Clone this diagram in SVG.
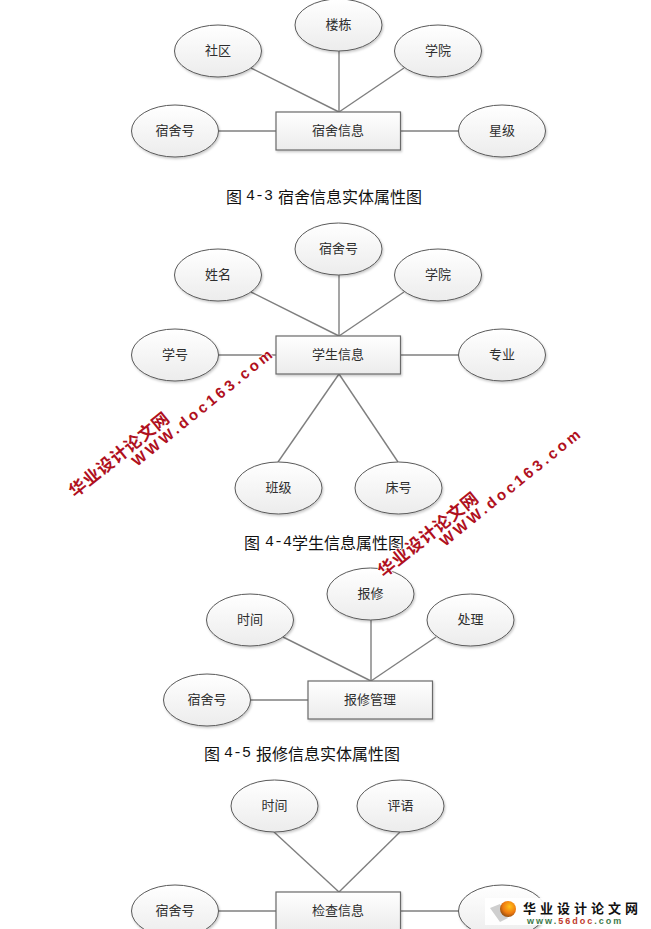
<svg xmlns="http://www.w3.org/2000/svg" width="651" height="929" viewBox="0 0 651 929">
<style>
.e{fill:url(#g);stroke:#5a5a5a;stroke-width:1;filter:url(#s)}
.r{fill:url(#g);stroke:#6a6a6a;stroke-width:1.2;filter:url(#s)}
.t{font:13px "Noto Sans CJK SC","Liberation Sans",sans-serif;fill:#2e2e2e;text-anchor:middle;dominant-baseline:central;transform:translateY(-1.5px)}
.c{font:16px "Noto Sans CJK SC",sans-serif;fill:#111;dominant-baseline:central;transform:translateY(-1px)}
.m{font-family:"Liberation Mono",monospace;font-size:15px}
#conn line{stroke:#7f7f7f;stroke-width:1.4}
.w1{font:bold 17px "Noto Sans CJK SC",sans-serif;fill:#b01020;stroke:#fff;stroke-width:1.5;paint-order:stroke;letter-spacing:.7px}
.w2{font:bold 15px "Liberation Sans",sans-serif;fill:#b01020;stroke:#fff;stroke-width:1.5;paint-order:stroke;letter-spacing:3.3px}
</style>
<defs>
<linearGradient id="g" x1="0" y1="0" x2="0" y2="1"><stop offset="0" stop-color="#fff"/><stop offset="1" stop-color="#ececec"/></linearGradient>
<filter id="s" x="-10%" y="-10%" width="125%" height="130%"><feDropShadow dx="1" dy="1.5" stdDeviation="1" flood-color="#000" flood-opacity=".22"/></filter>
<radialGradient id="o" cx=".6" cy=".35" r=".7"><stop offset="0" stop-color="#ffc21a"/><stop offset=".6" stop-color="#ef7a10"/><stop offset="1" stop-color="#8a4a10"/></radialGradient>
</defs>
<rect width="651" height="929" fill="#fff"/>
<g id="conn">
<line x1="251" y1="68" x2="339" y2="112"/><line x1="339" y1="51" x2="339" y2="112"/><line x1="404" y1="68" x2="339" y2="112"/><line x1="218" y1="131" x2="276" y2="131"/><line x1="400" y1="131" x2="459" y2="131"/>
<line x1="251" y1="292" x2="339" y2="336"/><line x1="339" y1="275" x2="339" y2="336"/><line x1="404" y1="292" x2="339" y2="336"/><line x1="218" y1="355" x2="276" y2="355"/><line x1="400" y1="355" x2="459" y2="355"/><line x1="339" y1="374" x2="278" y2="462"/><line x1="339" y1="374" x2="398" y2="462"/>
<line x1="283" y1="637" x2="371" y2="681"/><line x1="371" y1="620" x2="371" y2="681"/><line x1="436" y1="637" x2="371" y2="681"/><line x1="250" y1="700" x2="308" y2="700"/>
<line x1="274" y1="832" x2="339" y2="892"/><line x1="400" y1="832" x2="339" y2="892"/><line x1="218" y1="911" x2="276" y2="911"/><line x1="400" y1="911" x2="459" y2="911"/>
</g>
<g id="n1"><ellipse class="e" cx="218" cy="51" rx="43.5" ry="26"/><text class="t" x="218" y="51">社区</text></g>
<g id="n2"><ellipse class="e" cx="338.5" cy="25" rx="43.5" ry="26"/><text class="t" x="338.5" y="25">楼栋</text></g>
<g id="n3"><ellipse class="e" cx="438" cy="51" rx="43.5" ry="26"/><text class="t" x="438" y="51">学院</text></g>
<g id="n4"><ellipse class="e" cx="175" cy="131" rx="43.5" ry="26"/><text class="t" x="175" y="131">宿舍号</text></g>
<g id="n5"><ellipse class="e" cx="502" cy="131" rx="43.5" ry="26"/><text class="t" x="502" y="131">星级</text></g>
<g id="n6"><rect class="r" x="276" y="112" width="124.500" height="38"/><text class="t" x="338" y="131">宿舍信息</text></g>
<text class="c" y="197"><tspan x="226">图</tspan><tspan class="m" x="246">4-3</tspan><tspan x="278">宿舍信息实体属性图</tspan></text>
<g id="n7"><ellipse class="e" cx="218" cy="275" rx="43.5" ry="26"/><text class="t" x="218" y="275">姓名</text></g>
<g id="n8"><ellipse class="e" cx="338.5" cy="249" rx="43.5" ry="26"/><text class="t" x="338.5" y="249">宿舍号</text></g>
<g id="n9"><ellipse class="e" cx="438" cy="275" rx="43.5" ry="26"/><text class="t" x="438" y="275">学院</text></g>
<g id="n10"><ellipse class="e" cx="175" cy="355" rx="43.5" ry="26"/><text class="t" x="175" y="355">学号</text></g>
<g id="n11"><ellipse class="e" cx="502" cy="355" rx="43.5" ry="26"/><text class="t" x="502" y="355">专业</text></g>
<g id="n12"><rect class="r" x="276" y="336" width="124.500" height="38"/><text class="t" x="338" y="355">学生信息</text></g>
<g id="n13"><ellipse class="e" cx="278.500" cy="488" rx="43.5" ry="26"/><text class="t" x="278.500" y="488">班级</text></g>
<g id="n14"><ellipse class="e" cx="398.500" cy="488" rx="43.5" ry="26"/><text class="t" x="398.500" y="488">床号</text></g>
<text class="c" y="543"><tspan x="244">图</tspan><tspan class="m" x="265">4-4</tspan><tspan x="292">学生信息属性图</tspan></text>
<g id="n15"><ellipse class="e" cx="250" cy="620" rx="43.5" ry="26"/><text class="t" x="250" y="620">时间</text></g>
<g id="n16"><ellipse class="e" cx="370.500" cy="594" rx="43.5" ry="26"/><text class="t" x="370.500" y="594">报修</text></g>
<g id="n17"><ellipse class="e" cx="470.500" cy="620" rx="43.5" ry="26"/><text class="t" x="470.500" y="620">处理</text></g>
<g id="n18"><ellipse class="e" cx="207" cy="700" rx="43.5" ry="26"/><text class="t" x="207" y="700">宿舍号</text></g>
<g id="n19"><rect class="r" x="308" y="681" width="124.500" height="38"/><text class="t" x="370" y="700">报修管理</text></g>
<text class="c" y="754"><tspan x="204">图</tspan><tspan class="m" x="224">4-5</tspan><tspan x="256">报修信息实体属性图</tspan></text>
<g id="n20"><ellipse class="e" cx="274.500" cy="806" rx="43.5" ry="26"/><text class="t" x="274.500" y="806">时间</text></g>
<g id="n21"><ellipse class="e" cx="400.500" cy="806" rx="43.5" ry="26"/><text class="t" x="400.500" y="806">评语</text></g>
<g id="n22"><ellipse class="e" cx="175" cy="911" rx="43.5" ry="26"/><text class="t" x="175" y="911">宿舍号</text></g>
<g id="n23"><ellipse class="e" cx="502" cy="911" rx="43.5" ry="26"/></g>
<g id="n24"><rect class="r" x="276" y="892" width="124.500" height="38"/><text class="t" x="338" y="911">检查信息</text></g>
<g id="wm1"><text class="w1" transform="translate(75 498) rotate(-39)">华业设计论文网</text><text class="w2" transform="translate(137 467) rotate(-39)">WWW.doc163.com</text></g>
<g id="wm2"><text class="w1" transform="translate(384 578) rotate(-39)">华业设计论文网</text><text class="w2" transform="translate(445 547) rotate(-39)">WWW.doc163.com</text></g>
<g id="logo">
<rect x="485" y="898" width="160" height="27" fill="#fff" fill-opacity=".92"/>
<path d="M490 908l10-4 8 14-8 4z" fill="#cfcfcf"/>
<circle cx="508" cy="909" r="8" fill="url(#o)"/>
<text x="523" y="913" font-family="'Noto Sans CJK SC',sans-serif" font-weight="700" font-size="13" fill="#111" letter-spacing="4">华业设计论文网</text>
<text x="527" y="924" font-family="'Liberation Sans',sans-serif" font-weight="700" font-size="9" fill="#3f7a4a" letter-spacing="2">www.<tspan fill="#c0392b">56doc</tspan>.com</text>
</g>
</svg>
